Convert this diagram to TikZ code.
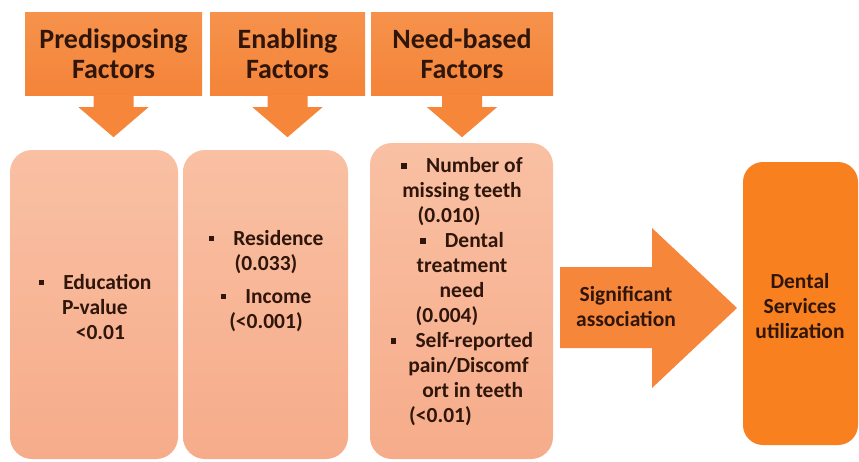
\documentclass[tikz,border=0pt]{standalone}
\usepackage{fontspec}
\setmainfont{Carlito}
\usetikzlibrary{calc}

\definecolor{hdrorange}{RGB}{244,132,56}
\definecolor{hdrtop}{RGB}{246,146,76}
\definecolor{boxtop}{RGB}{249,192,163}
\definecolor{boxbot}{RGB}{246,172,138}
\definecolor{outorange}{RGB}{248,128,30}
\definecolor{arroworange}{RGB}{245,134,58}
\definecolor{txtbrown}{RGB}{48,22,10}

\newcommand{\bul}{\rule[0.2em]{0.25em}{0.25em}}
\newcommand{\pad}[1]{\rule{#1}{0pt}}

\tikzset{
  hdr/.style={top color=hdrtop, bottom color=hdrorange, minimum height=83pt,
    inner sep=0pt, align=center, text=txtbrown,
    font=\fontsize{28}{30}\selectfont\bfseries},
  factbox/.style={top color=boxtop, bottom color=boxbot, rounded corners=22pt,
    inner sep=0pt},
  facttext/.style={align=center, text=txtbrown, inner sep=0pt,
    font=\fontsize{21.5}{25}\selectfont\bfseries},
  arrowfill/.style={fill=arroworange}
}

\begin{document}
\begin{tikzpicture}[x=1pt,y=-1pt]
  \useasboundingbox (0,0) rectangle (859,461);
  % factor headings
  \node[hdr, minimum width=177pt] (pre) at (113.5,53.5) {Predisposing\\Factors};
  \node[hdr, minimum width=155pt] (ena) at (287.5,53.5) {Enabling\\Factors};
  \node[hdr, minimum width=182pt] (need) at (462,53.5) {Need-based\\Factors};
  \foreach \n in {pre,ena,need}
    \fill[arrowfill] ($(\n.south)+(-20,0)$) -- ++(0,12) -- ++(-15,0)
      -- ($(\n.south)+(0,42)$) -- ($(\n.south)+(35,12)$) -- ++(-15,0)
      -- ++(0,-12) -- cycle;
  % factor boxes
  \node[factbox, minimum width=168pt, minimum height=309pt] (b1) at (94,304.5) {};
  \node[factbox, minimum width=165pt, minimum height=309pt] (b2) at (265.5,304.5) {};
  \node[factbox, minimum width=183pt, minimum height=316pt] (b3) at (461.5,301) {};
  \node[facttext] (t1) at (95,307) {\bul\hspace{0.9em}Education\\P-value\\\pad{0.5em}<0.01};
  \node[facttext] (t2) at (266,281) {\bul\hspace{0.9em}Residence\\(0.033)\\[8pt]
    \bul\hspace{0.9em}Income\\(<0.001)};
  \node[facttext] (t3) at (462,292) {\bul\hspace{0.9em}Number of\\missing teeth\\
    (0.010)\pad{1.2em}\\\bul\hspace{0.9em}Dental\\treatment\\need\\
    (0.004)\pad{1.4em}\\\bul\hspace{0.9em}Self-reported\\\pad{0.6em}pain/Discomf\\
    \pad{1em}ort in teeth\\(<0.01)\pad{2em}};
  % outcome
  \node[fill=outorange, rounded corners=20pt, minimum width=115pt,
    minimum height=283pt, inner sep=0pt] (out) at (800.5,303.5) {};
  \node[facttext] (outtxt) at (800,306) {Dental\\Services\\utilization};
  \fill[arrowfill] (560,267) -- (652,267) -- (652,228) -- (737,308) -- (652,388)
    -- (652,348) -- (560,348) -- cycle;
  \node[facttext] (sig) at (626,307) {Significant\\association};
\end{tikzpicture}
\end{document}
